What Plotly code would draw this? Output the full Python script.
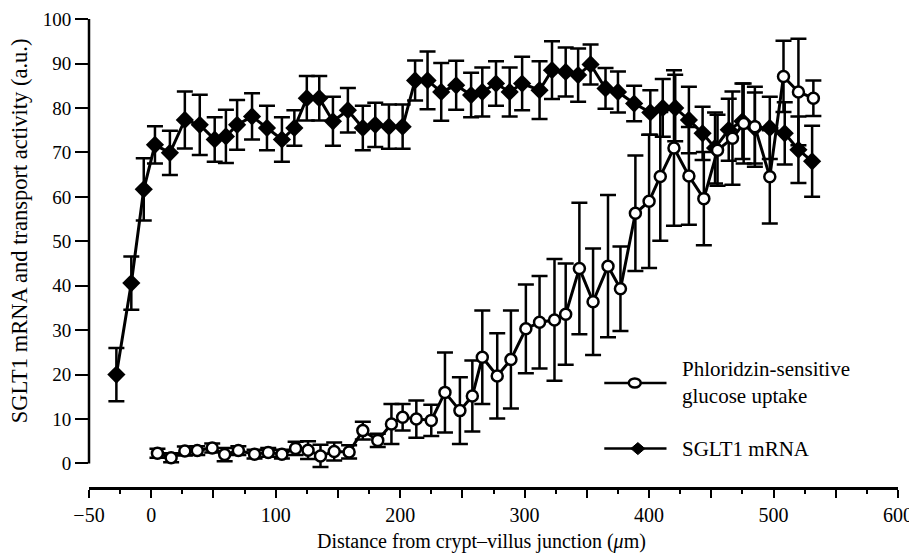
import plotly.graph_objects as go

# ---- data ----
sglt_x = [-28, -16, -6, 3, 15, 27, 39, 51, 60, 69, 81, 93, 105, 115, 125, 135, 146, 158, 170, 180,
          191, 202, 212, 222, 233, 245, 257, 266, 277, 288, 298, 312, 322, 333, 343, 353, 365, 375,
          388, 401, 411, 421, 432, 443, 453, 464, 475, 485, 497, 509, 520, 531]
sglt_y = [20, 40.6, 61.7, 71.7, 69.9, 77.3, 76.2, 72.9, 73.6, 76.2, 78.1, 75.5, 72.9, 75.5, 82.2, 82.2,
          77, 79.5, 75.5, 76.2, 75.8, 75.8, 86.2, 86.2, 83.6, 85.1, 82.9, 83.6, 85.5, 83.6, 85.5, 84,
          88.5, 88.1, 87.4, 89.8, 84.4, 83.6, 81, 79, 80, 80, 77.3, 74.3, 71, 75.1, 77, 75.5, 75.5,
          74.3, 70.6, 68]
sglt_err = [6, 6, 7, 4.2, 5, 6.4, 6.8, 5, 6, 5.6, 5.2, 5, 5, 4, 5, 5, 5.5, 5, 5, 5, 5, 5, 4.5, 6.5,
            6.5, 5.5, 5, 5.5, 5, 5.5, 6, 6.5, 6.5, 5.5, 6, 4.5, 4.6, 4.6, 4, 5, 6.5, 7.5, 7.5, 6, 8,
            7, 8.5, 8, 7, 7, 7.5, 8]

phl_x = [5, 16, 27, 37, 49, 59, 70, 83, 94, 105, 116, 126, 136, 147, 159, 170, 182, 193, 202, 213,
         225, 236, 248, 258, 266, 278, 289, 301, 312, 324, 333, 344, 355, 367, 377, 389, 400, 409,
         420, 432, 444, 455, 467, 476, 485, 497, 508, 520, 532]
phl_y = [2.3, 1.3, 2.8, 2.9, 3.5, 2.0, 2.9, 2.1, 2.5, 2.1, 3.4, 3.0, 1.7, 2.7, 2.6, 7.4, 5.2, 8.9,
         10.4, 10, 9.7, 16, 11.9, 15.2, 23.9, 19.7, 23.4, 30.3, 31.8, 32.3, 33.6, 43.9, 36.4, 44.4,
         39.3, 56.3, 59, 64.6, 71, 64.7, 59.6, 70.5, 73.2, 76.5, 75.8, 64.5, 87.1, 83.6, 82.2]
phl_err = [1, 1, 1, 1, 1, 1.5, 1, 1, 1, 1, 1.5, 2, 2.5, 2, 1.5, 2, 1.5, 4.5, 3, 4.2, 3.5, 9, 7.5, 8,
           10.5, 9.6, 11, 10, 10.4, 13.7, 11.4, 14.8, 12, 16, 9.5, 13, 15, 14.5, 17.5, 11, 10.5, 8,
           10.5, 9, 9, 10.5, 8, 12, 4]

x_tickvals = [-50, 0, 50, 100, 150, 200, 250, 300, 350, 400, 450, 500, 550, 600]
x_ticktext = ["\u221250", "0", "", "100", "", "200", "", "300", "", "400", "", "500", "", "600"]
x_minor = [-25, 25, 75, 125, 175, 225, 275, 325, 375, 425, 475, 525, 575]
y_tickvals = [0, 10, 20, 30, 40, 50, 60, 70, 80, 90, 100]

FONT = "Liberation Serif, Times New Roman, serif"
BLACK = "black"

fig = go.Figure()

fig.add_trace(go.Scatter(
    x=sglt_x, y=sglt_y, mode="lines+markers",
    line=dict(color=BLACK, width=3),
    marker=dict(symbol="diamond", size=14, color=BLACK),
    error_y=dict(type="data", array=sglt_err, color=BLACK, thickness=2.5, width=8),
    showlegend=False))

fig.add_trace(go.Scatter(
    x=phl_x, y=phl_y, mode="lines+markers",
    line=dict(color=BLACK, width=3),
    marker=dict(symbol="circle", size=11, color="white", line=dict(color=BLACK, width=2.5)),
    error_y=dict(type="data", array=phl_err, color=BLACK, thickness=2.5, width=8),
    showlegend=False))

shapes = [
    # y axis line (0..100)
    dict(type="line", xref="paper", yref="y", x0=0, x1=0, y0=0, y1=100,
         line=dict(color=BLACK, width=2.5)),
    # legend samples
    dict(type="line", xref="x", yref="y", x0=364, x1=414, y0=18.1, y1=18.1,
         line=dict(color=BLACK, width=2.5)),
    dict(type="circle", xref="x", yref="y", xsizemode="pixel", ysizemode="pixel",
         xanchor=388.5, yanchor=18.1, x0=-6, x1=6, y0=-4.5, y1=4.5,
         fillcolor="white", line=dict(color=BLACK, width=2.5)),
    dict(type="line", xref="x", yref="y", x0=364, x1=414, y0=3.35, y1=3.35,
         line=dict(color=BLACK, width=2.5)),
    dict(type="path", xref="x", yref="y", xsizemode="pixel", ysizemode="pixel",
         xanchor=391, yanchor=3.35, path="M 0,6 L 7,0 L 0,-6 L -7,0 Z",
         fillcolor=BLACK, line=dict(color=BLACK, width=1)),
]

legend_font = dict(size=21, family=FONT, color=BLACK)
annotations = [
    dict(x=424.7, y=18.2, xref="x", yref="y", text="Phloridzin-sensitive<br>glucose uptake",
         showarrow=False, xanchor="left", yanchor="middle", align="left", font=legend_font),
    dict(x=424.7, y=3.35, xref="x", yref="y", text="SGLT1 mRNA", showarrow=False,
         xanchor="left", yanchor="middle", font=legend_font),
    dict(x=0.485, y=-0.116, xref="paper", yref="paper",
         text="Distance from crypt\u2013villus junction (<i>\u03bc</i>m)",
         showarrow=False, xanchor="center", yanchor="middle",
         font=dict(size=20, family=FONT, color=BLACK)),
    dict(x=-0.0855, y=0.548, xref="paper", yref="paper",
         text="SGLT1 mRNA and transport activity (a.u.)", textangle=-90,
         showarrow=False, xanchor="center", yanchor="middle",
         font=dict(size=22.5, family=FONT, color=BLACK)),
]

# page body has an 8px margin, so the figure is sized/offset to compensate
fig.update_layout(
    width=909, height=545,
    margin=dict(l=81, r=19, t=11, b=66, autoexpand=False),
    paper_bgcolor="white", plot_bgcolor="white",
    font=dict(family=FONT, size=20, color=BLACK),
    shapes=shapes,
    annotations=annotations,
    xaxis=dict(range=[-50, 600], showgrid=False, zeroline=False, automargin=False,
               showline=True, linecolor=BLACK, linewidth=2.5,
               tickmode="array", tickvals=x_tickvals, ticktext=x_ticktext,
               ticks="outside", ticklen=8, tickwidth=2, tickcolor=BLACK,
               ticklabeloverflow="allow",
               minor=dict(tickvals=x_minor, ticks="outside", ticklen=4, tickwidth=2,
                          tickcolor=BLACK, showgrid=False),
               tickfont=dict(size=20, family=FONT)),
    yaxis=dict(range=[-5.29, 100.02], showgrid=False, zeroline=False, showline=False,
               automargin=False,
               tickmode="array", tickvals=y_tickvals,
               ticks="outside", ticklen=13, tickwidth=2, tickcolor=BLACK,
               ticklabeloverflow="allow",
               tickfont=dict(size=19, family=FONT)),
)

fig.write_html("out.html")
